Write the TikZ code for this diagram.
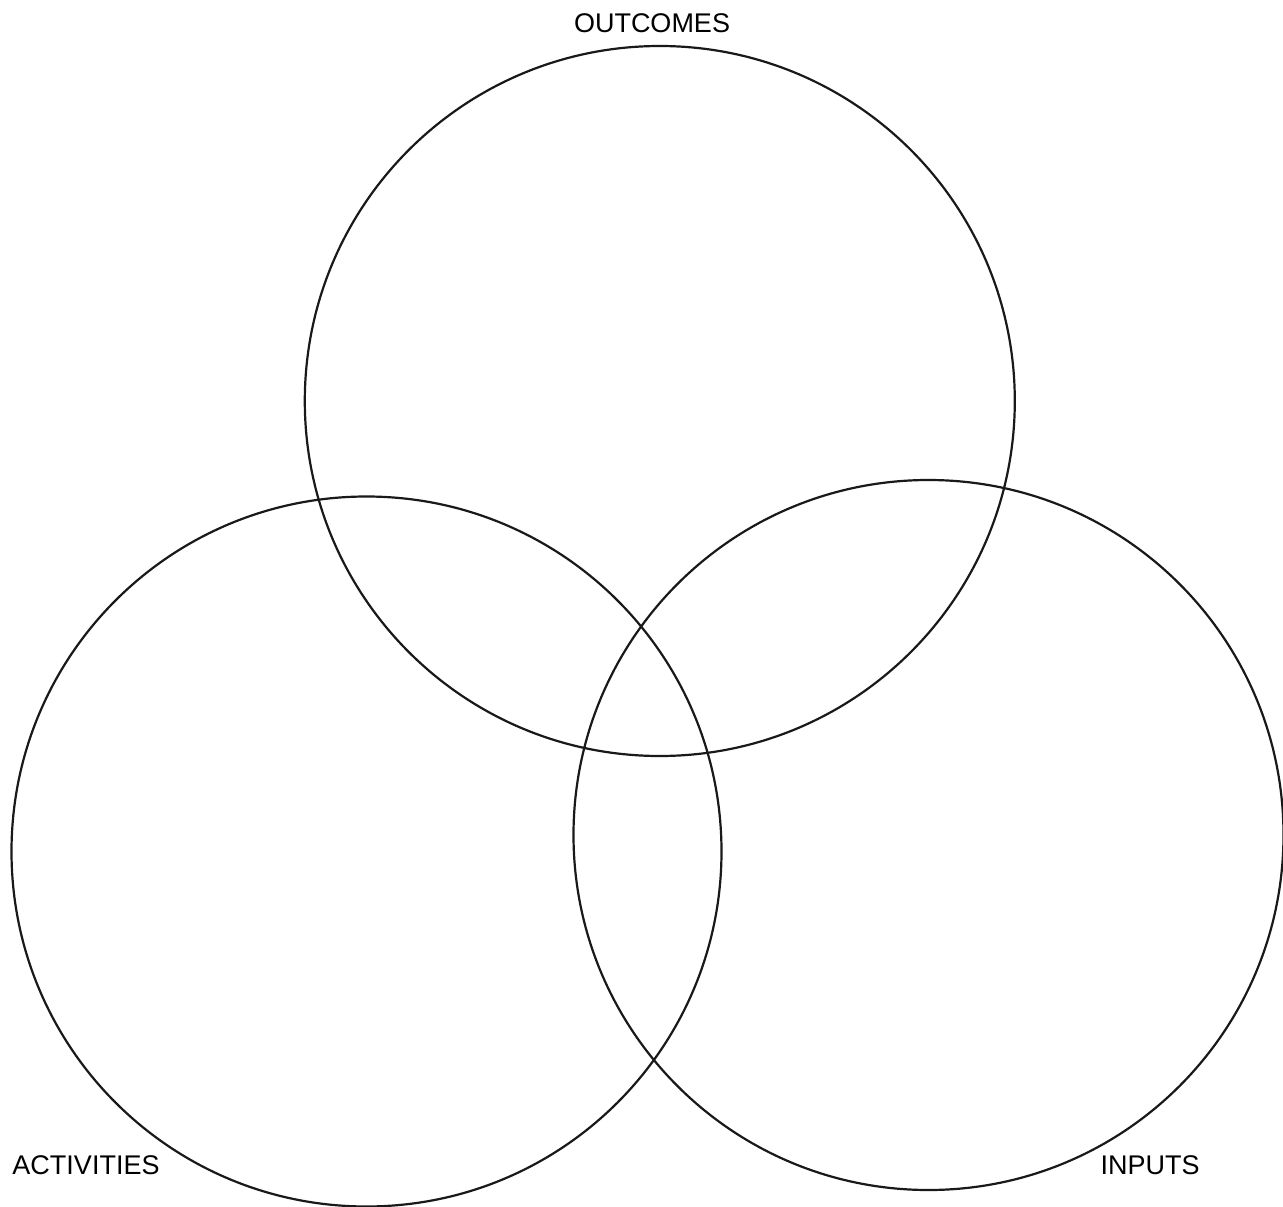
\documentclass[tikz,border=0pt]{standalone}
\usepackage{fontspec}
\setmainfont{Liberation Sans}
\begin{document}
\begin{tikzpicture}[x=1pt,y=-1pt,
  ring/.style={draw=black!90, line width=2.2pt, circle, minimum size=710pt, inner sep=0pt},
  lbl/.style={font=\fontsize{27}{30}\selectfont, inner sep=0pt}]
\useasboundingbox (0,0) rectangle (1283,1207);
\node[ring] (outcomes) at (659.8,401) {};
\node[ring] (activities) at (366.5,851.5) {};
\node[ring] (inputs) at (928.5,835) {};
\node[lbl] (tout) at (652,23) {OUTCOMES};
\node[lbl] (tact) at (86,1165) {ACTIVITIES};
\node[lbl] (tinp) at (1150,1165) {INPUTS};
\end{tikzpicture}
\end{document}
